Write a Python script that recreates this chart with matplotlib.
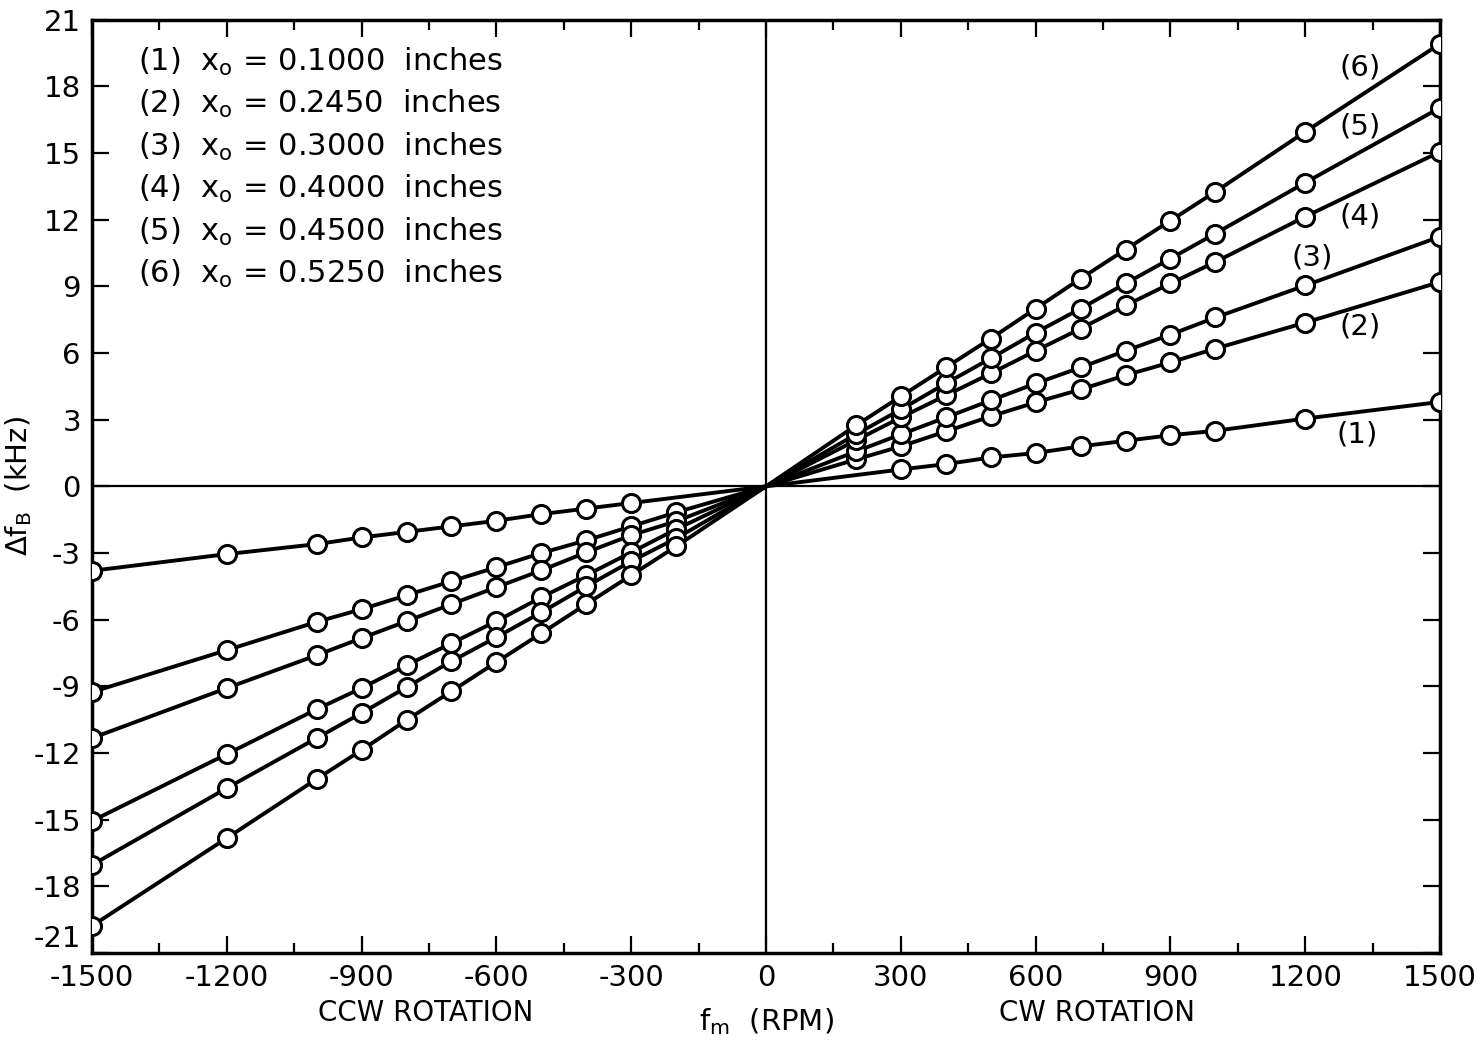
import numpy as np
import matplotlib
matplotlib.use("Agg")
import matplotlib.pyplot as plt
from matplotlib.ticker import MultipleLocator

# rotation speed (RPM); 0 is the common origin of every curve
rpm = [-1500, -1200, -1000, -900, -800, -700, -600, -500, -400, -300, -200, 0,
       200, 300, 400, 500, 600, 700, 800, 900, 1000, 1200, 1500]

# beat frequency shift (kHz), one list per probe position; nan = not measured
df_1 = [-3.8, -3.05, -2.6, -2.3, -2.05, -1.8, -1.55, -1.25, -1.0, -0.75, np.nan, 0,
        np.nan, 0.76, 1.0, 1.3, 1.5, 1.8, 2.05, 2.3, 2.5, 3.05, 3.8]
df_2 = [-9.26, -7.37, -6.1, -5.53, -4.9, -4.27, -3.64, -3.0, -2.43, -1.8, -1.17, 0,
        1.21, 1.8, 2.47, 3.15, 3.78, 4.36, 5.0, 5.58, 6.2, 7.37, 9.2]
df_3 = [-11.33, -9.08, -7.6, -6.83, -6.07, -5.3, -4.54, -3.78, -2.97, -2.2, -1.57, 0,
        1.57, 2.34, 3.1, 3.87, 4.63, 5.35, 6.1, 6.83, 7.6, 9.04, 11.24]
df_4 = [-15.06, -12.05, -10.03, -9.08, -8.05, -7.06, -6.07, -4.99, -4.0, -2.97, -1.93, 0,
        2.07, 3.1, 4.09, 5.08, 6.1, 7.1, 8.14, 9.13, 10.1, 12.14, 15.06]
df_5 = [-17.04, -13.58, -11.33, -10.2, -9.04, -7.87, -6.79, -5.67, -4.5, -3.37, -2.34, 0,
        2.34, 3.46, 4.63, 5.76, 6.92, 8.0, 9.13, 10.25, 11.38, 13.67, 17.04]
df_6 = [-19.78, -15.83, -13.17, -11.87, -10.52, -9.22, -7.91, -6.61, -5.3, -4.0, -2.7, 0,
        2.74, 4.05, 5.35, 6.65, 8.0, 9.35, 10.66, 11.96, 13.26, 15.96, 19.92]

series = [df_1, df_2, df_3, df_4, df_5, df_6]
curve_labels = ["(1)", "(2)", "(3)", "(4)", "(5)", "(6)"]
x0_values = ["0.1000", "0.2450", "0.3000", "0.4000", "0.4500", "0.5250"]

plt.rcParams["font.family"] = ["DejaVu Sans"]
plt.rcParams["axes.unicode_minus"] = False

fig = plt.figure(figsize=(14.77, 10.40), dpi=100)
ax = fig.add_axes([0.0623, 0.0837, 0.9127, 0.8973])

x_all = np.array(rpm, dtype=float)
for vals in series:
    y = np.array(vals, dtype=float)
    ok = ~np.isnan(y)
    xs, ys = x_all[ok], y[ok]
    ax.plot(xs, ys, color="black", lw=2.8, zorder=3)
    m = xs != 0
    ax.plot(xs[m], ys[m], ls="none", marker="o", ms=13, mfc="white",
            mec="black", mew=2.2, zorder=4)

ax.axhline(0, color="black", lw=1.6, zorder=2)
ax.axvline(0, color="black", lw=1.6, zorder=2)

ax.set_xlim(-1500, 1500)
ax.set_ylim(-21, 21)
ax.xaxis.set_major_locator(MultipleLocator(300))
ax.xaxis.set_minor_locator(MultipleLocator(150))
ax.yaxis.set_major_locator(MultipleLocator(3))
ax.tick_params(which="both", direction="in", top=True, right=True,
               width=1.6, labelsize=21, color="black")
ax.tick_params(axis="x", pad=8)
ax.tick_params(axis="y", pad=8)
ax.tick_params(which="major", length=12)
ax.tick_params(which="minor", length=7)
for s in ax.spines.values():
    s.set_linewidth(2.5)

# lift the bottom y label a little, as in the original, so it clears "-1500"
fig.canvas.draw()
for lbl in ax.get_yticklabels():
    if lbl.get_position()[1] <= -21:
        lbl.set_va("bottom")

# curve numbers next to the right-hand ends
label_pos = [(1315, 2.34), (1322, 7.19), (1215, 10.3), (1322, 12.14),
             (1322, 16.19), (1322, 18.84)]
for lab, (lx, ly) in zip(curve_labels, label_pos):
    ax.text(lx, ly, lab, fontsize=21, ha="center", va="center", zorder=5)

# key in the upper left
for i, (lab, x0) in enumerate(zip(curve_labels, x0_values)):
    ax.text(0.034, 0.955 - i * 0.0455,
            lab + r"  x$_\mathregular{o}$ = " + x0 + "  inches",
            transform=ax.transAxes, fontsize=22, ha="left", va="center")

ax.set_ylabel(r"$\Delta$f$_\mathregular{B}$  (kHz)", fontsize=21)
ax.yaxis.set_label_coords(-0.043, 0.5)
fig.text(0.519, 0.018, r"f$_\mathregular{m}$  (RPM)", fontsize=21,
         ha="center", va="center")
fig.text(0.288, 0.026, "CCW ROTATION", fontsize=20, ha="center", va="center")
fig.text(0.743, 0.026, "CW ROTATION", fontsize=20, ha="center", va="center")

fig.savefig("out.png", dpi=100)
